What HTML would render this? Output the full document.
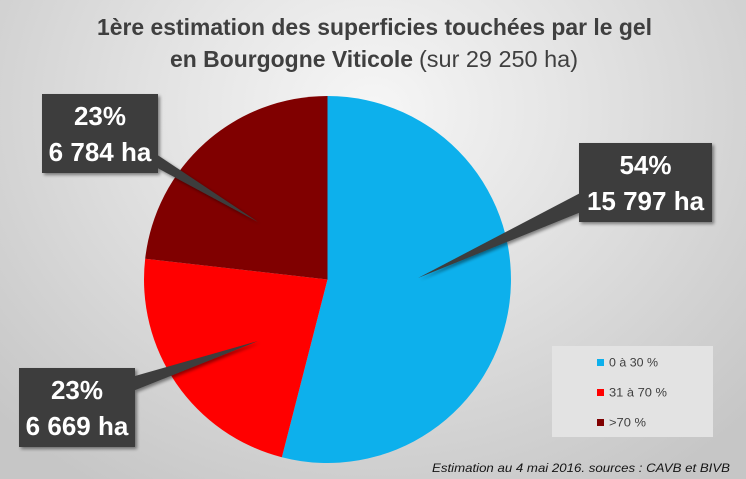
<!DOCTYPE html>
<html>
<head>
<meta charset="utf-8">
<style>
  html, body { margin: 0; padding: 0; }
  body { width: 746px; height: 479px; overflow: hidden; }
  svg { display: block; }
</style>
</head>
<body>
<svg width="746" height="479" viewBox="0 0 746 479" xmlns="http://www.w3.org/2000/svg">
  <defs>
    <radialGradient id="bg" cx="373" cy="110" r="470" gradientUnits="userSpaceOnUse" gradientTransform="translate(373 110) scale(1.1 0.95) translate(-373 -110)">
      <stop offset="0" stop-color="#f6f6f6"/>
      <stop offset="0.35" stop-color="#e6e6e6"/>
      <stop offset="0.75" stop-color="#d2d2d2"/>
      <stop offset="1" stop-color="#c6c6c6"/>
    </radialGradient>
    <filter id="sh" x="-20%" y="-20%" width="150%" height="150%">
      <feGaussianBlur in="SourceAlpha" stdDeviation="1.5"/>
      <feOffset dx="2" dy="2" result="o"/>
      <feComponentTransfer><feFuncA type="linear" slope="0.45"/></feComponentTransfer>
      <feMerge><feMergeNode/><feMergeNode in="SourceGraphic"/></feMerge>
    </filter>
  </defs>

  <rect x="0" y="0" width="746" height="479" fill="url(#bg)"/>

  <!-- Title -->
  <text x="97" y="35" font-family="Liberation Sans, sans-serif" font-weight="bold" font-size="23" fill="#3f3f3f" textLength="555" lengthAdjust="spacingAndGlyphs">1ère estimation des superficies touchées par le gel</text>
  <text x="170" y="67" font-family="Liberation Sans, sans-serif" font-weight="bold" font-size="23" fill="#3f3f3f" textLength="243" lengthAdjust="spacingAndGlyphs">en Bourgogne Viticole</text>
  <text x="419" y="67" font-family="Liberation Sans, sans-serif" font-size="23" fill="#3f3f3f" textLength="159" lengthAdjust="spacingAndGlyphs">(sur 29 250 ha)</text>

  <!-- Pie -->
  <g>
    <path d="M327.5,279.5 L327.5,96 A183.5,183.5 0 1 1 281.86,457.24 Z" fill="#0db0ec"/>
    <path d="M327.5,279.5 L281.86,457.24 A183.5,183.5 0 0 1 145.18,258.73 Z" fill="#ff0000"/>
    <path d="M327.5,279.5 L145.18,258.73 A183.5,183.5 0 0 1 327.5,96 Z" fill="#800000"/>
  </g>

  <!-- Callout 1: top-left (dark red) -->
  <g filter="url(#sh)">
    <polygon points="150,150 150,164 258,222" fill="#3d3d3d"/>
    <rect x="42" y="94" width="116" height="79" fill="#3d3d3d"/>
  </g>
  <text x="100" y="125" text-anchor="middle" font-family="Liberation Sans, sans-serif" font-weight="bold" font-size="26" fill="#ffffff">23%</text>
  <text x="100" y="161" text-anchor="middle" font-family="Liberation Sans, sans-serif" font-weight="bold" font-size="26" fill="#ffffff">6 784 ha</text>

  <!-- Callout 2: right (blue) -->
  <g filter="url(#sh)">
    <polygon points="586,190 586,210 418,278" fill="#3d3d3d"/>
    <rect x="579" y="143" width="133" height="79" fill="#3d3d3d"/>
  </g>
  <text x="645.5" y="174" text-anchor="middle" font-family="Liberation Sans, sans-serif" font-weight="bold" font-size="26" fill="#ffffff">54%</text>
  <text x="645.5" y="210" text-anchor="middle" font-family="Liberation Sans, sans-serif" font-weight="bold" font-size="26" fill="#ffffff">15 797 ha</text>

  <!-- Callout 3: bottom-left (red) -->
  <g filter="url(#sh)">
    <polygon points="128,378 128,393 258,341" fill="#3d3d3d"/>
    <rect x="19" y="368" width="116" height="79" fill="#3d3d3d"/>
  </g>
  <text x="77" y="399" text-anchor="middle" font-family="Liberation Sans, sans-serif" font-weight="bold" font-size="26" fill="#ffffff">23%</text>
  <text x="77" y="435" text-anchor="middle" font-family="Liberation Sans, sans-serif" font-weight="bold" font-size="26" fill="#ffffff">6 669 ha</text>

  <!-- Legend -->
  <rect x="552" y="346" width="161" height="91" fill="#e3e3e3"/>
  <rect x="597" y="359" width="7" height="7" fill="#0db0ec"/>
  <text x="609" y="366.5" font-family="Liberation Sans, sans-serif" font-size="12" fill="#404040" textLength="49" lengthAdjust="spacingAndGlyphs">0 à 30 %</text>
  <rect x="597" y="389" width="7" height="7" fill="#ff0000"/>
  <text x="609" y="396.5" font-family="Liberation Sans, sans-serif" font-size="12" fill="#404040" textLength="58" lengthAdjust="spacingAndGlyphs">31 à 70 %</text>
  <rect x="597" y="419" width="7" height="7" fill="#800000"/>
  <text x="609" y="426.5" font-family="Liberation Sans, sans-serif" font-size="12" fill="#404040" textLength="37" lengthAdjust="spacingAndGlyphs">&gt;70 %</text>

  <!-- Footnote -->
  <text x="432" y="472" font-family="Liberation Sans, sans-serif" font-style="italic" font-size="12" fill="#151515" textLength="298" lengthAdjust="spacingAndGlyphs">Estimation au 4 mai 2016.  sources : CAVB et BIVB</text>
</svg>
</body>
</html>
